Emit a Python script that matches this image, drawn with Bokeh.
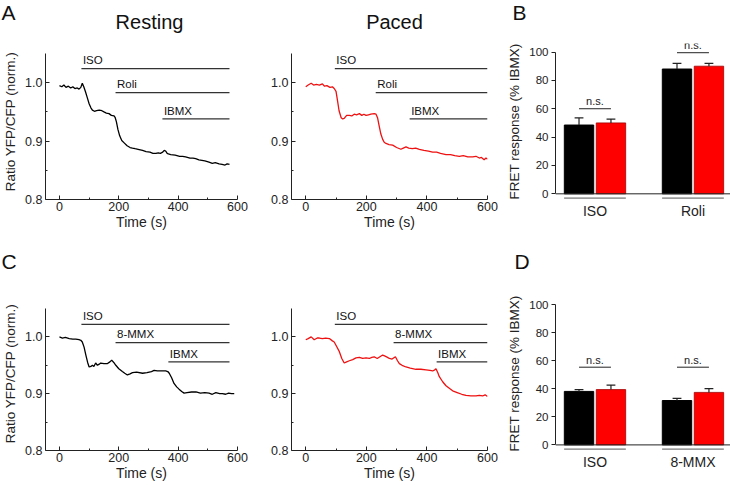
from bokeh.plotting import figure
from bokeh.layouts import row, column
from bokeh.models import FixedTicker, NumeralTickFormatter, Span
from bokeh.embed import file_html
from bokeh.resources import INLINE
from bokeh.core.properties import value

FONT = "Liberation Sans"

# ---------------- data ----------------
rest_A_t = [0, 8, 15, 22, 30, 38, 45, 52, 60, 66,
            72, 77, 82, 88, 94, 100, 106, 111, 118, 125,
            134, 143, 150, 158, 167, 175, 184, 188, 192, 197,
            203, 210, 218, 228, 238, 246, 255, 265, 280, 292,
            305, 315, 325, 333, 340, 348, 353, 358, 363, 367,
            375, 390, 405, 415, 425, 440, 450, 459, 470, 480,
            490, 504, 515, 525, 538, 548, 558, 565, 573]
rest_A_v = [0.995, 0.993, 0.996, 0.992, 0.994, 0.991, 0.993, 0.990, 0.991, 0.989,
            0.992, 0.999, 0.993, 0.984, 0.974, 0.964, 0.957, 0.953, 0.951, 0.952,
            0.953, 0.952, 0.950, 0.948, 0.947, 0.944, 0.943, 0.940, 0.933, 0.920,
            0.909, 0.901, 0.897, 0.892, 0.889, 0.888, 0.887, 0.886, 0.884, 0.882,
            0.881, 0.879, 0.879, 0.880, 0.879, 0.881, 0.884, 0.883, 0.879, 0.878,
            0.877, 0.876, 0.874, 0.874, 0.873, 0.871, 0.871, 0.870, 0.868, 0.867,
            0.866, 0.864, 0.862, 0.863, 0.861, 0.860, 0.859, 0.861, 0.860]

paced_A_t = [0, 8, 18, 26, 35, 45, 55, 62, 70, 80,
             88, 94, 100, 105, 110, 117, 122, 127, 135, 144,
             152, 160, 168, 177, 185, 192, 199, 207, 215, 226,
             232, 237, 242, 248, 254, 259, 265, 275, 287, 300,
             314, 322, 331, 340, 352, 363, 375, 390, 405, 419,
             432, 445, 463, 478, 492, 507, 520, 535, 551, 562,
             573, 580, 589, 595, 600]
paced_A_v = [0.993, 0.996, 0.999, 0.996, 0.997, 0.996, 0.998, 0.994, 0.995, 0.992,
             0.993, 0.990, 0.985, 0.969, 0.952, 0.940, 0.938, 0.939, 0.944, 0.944,
             0.943, 0.946, 0.945, 0.947, 0.944, 0.946, 0.944, 0.945, 0.946, 0.947,
             0.946, 0.940, 0.927, 0.912, 0.903, 0.898, 0.896, 0.894, 0.893, 0.889,
             0.886, 0.888, 0.890, 0.888, 0.887, 0.888, 0.886, 0.884, 0.883, 0.881,
             0.881, 0.879, 0.877, 0.877, 0.875, 0.874, 0.875, 0.873, 0.873, 0.874,
             0.871, 0.872, 0.868, 0.871, 0.869]

rest_C_t = [0, 10, 20, 33, 45, 55, 66, 72, 77, 83,
            89, 95, 100, 106, 111, 116, 122, 128, 134, 139,
            150, 162, 170, 176, 183, 190, 200, 212, 220, 229,
            238, 246, 260, 280, 295, 310, 319, 330, 345, 358,
            365, 370, 378, 386, 395, 403, 412, 420, 430, 445,
            460, 475, 490, 504, 515, 527, 540, 549, 560, 570,
            580, 589]
rest_C_v = [1.000, 0.998, 0.999, 0.997, 0.996, 0.996, 0.995, 0.994, 0.991, 0.982,
            0.968, 0.955, 0.947, 0.948, 0.950, 0.948, 0.954, 0.950, 0.952, 0.954,
            0.953, 0.953, 0.956, 0.959, 0.955, 0.950, 0.944, 0.939, 0.936, 0.933,
            0.935, 0.937, 0.938, 0.936, 0.937, 0.939, 0.941, 0.940, 0.940, 0.940,
            0.939, 0.936, 0.928, 0.918, 0.912, 0.908, 0.904, 0.901, 0.902, 0.903,
            0.903, 0.901, 0.902, 0.901, 0.899, 0.902, 0.900, 0.900, 0.899, 0.901,
            0.900, 0.900]

paced_C_t = [0, 8, 18, 28, 38, 45, 55, 66, 78, 88,
             94, 102, 111, 119, 127, 135, 144, 155, 166, 177,
             188, 199, 210, 218, 226, 236, 245, 254, 262, 270,
             276, 285, 296, 303, 309, 318, 331, 345, 364, 380,
             397, 410, 419, 426, 430, 436, 441, 452, 463, 475,
             485, 500, 515, 529, 545, 562, 573, 584, 592, 600]
paced_C_v = [0.995, 0.997, 1.000, 0.995, 0.998, 0.998, 0.997, 0.998, 0.997, 0.993,
             0.991, 0.983, 0.974, 0.962, 0.954, 0.956, 0.958, 0.960, 0.963, 0.964,
             0.962, 0.963, 0.962, 0.964, 0.965, 0.962, 0.965, 0.968, 0.966, 0.964,
             0.962, 0.961, 0.965, 0.958, 0.953, 0.950, 0.947, 0.945, 0.943, 0.943,
             0.942, 0.941, 0.940, 0.942, 0.944, 0.937, 0.930, 0.921, 0.914, 0.909,
             0.905, 0.902, 0.899, 0.897, 0.896, 0.896, 0.897, 0.896, 0.898, 0.895]

# drug application bars
drugs_A = ["ISO", "Roli", "IBMX"]
drugs_C = ["ISO", "8-MMX", "IBMX"]
rest_A_start = [74, 189, 347]
paced_A_start = [96, 231, 343]
rest_C_start = [74, 189, 367]
paced_C_start = [96, 290, 432]
rest_end = 573
paced_end = 600
levels_A = [1.024, 0.983, 0.938]
levels_C = [1.022, 0.990, 0.956]

# bar charts
cats_B = ["ISO", "Roli"]
B_rest_mean = [48.5, 88.0]
B_rest_err = [5.0, 4.0]
B_paced_mean = [50.0, 90.0]
B_paced_err = [2.7, 2.0]
B_ns = [60.0, 99.5]

cats_D = ["ISO", "8-MMX"]
D_rest_mean = [38.2, 31.7]
D_rest_err = [1.3, 1.6]
D_paced_mean = [39.5, 37.5]
D_paced_err = [3.2, 2.7]
D_ns = [55.5, 55.5]

AX = "#222222"
TOTAL_W = 728


def style_axis(ax, size="12.5px"):
    ax.axis_line_color = AX
    ax.major_tick_line_color = AX
    ax.minor_tick_line_color = AX
    ax.major_label_text_font = FONT
    ax.major_label_text_font_size = size
    ax.major_label_text_color = AX
    ax.axis_label_text_font = FONT
    ax.axis_label_text_font_style = "normal"
    ax.axis_label_text_color = AX


def trace_panel(t, v, color, names, starts, end, levels, ylabel, ytop,
                bl, br, bt, bb, fw, fh):
    p = figure(frame_width=fw, frame_height=fh, min_border_left=bl, min_border_right=br,
               min_border_top=bt, min_border_bottom=bb, x_range=(-47, 600),
               y_range=(0.8, ytop), output_backend="svg", toolbar_location=None, title=None)
    p.outline_line_color = None
    p.xgrid.visible = False
    p.ygrid.visible = False
    p.line(t, v, line_color=color, line_width=1.3)
    p.segment(x0=starts, y0=levels, x1=[end] * len(starts), y1=levels,
              line_color="#333333", line_width=1.2)
    p.text(x=[s + 5 for s in starts], y=[lv + 0.004 for lv in levels], text=names,
           text_font=value(FONT), text_font_size="11.5px", text_color="#111111",
           text_baseline="bottom", text_align="left")
    for ax in (p.xaxis[0], p.yaxis[0]):
        style_axis(ax)
        ax.major_tick_in = 4
        ax.major_tick_out = 0
        ax.minor_tick_in = 2
        ax.minor_tick_out = 0
        ax.major_label_standoff = 3
    p.xaxis.major_label_standoff = 2
    p.yaxis.bounds = (0.8, 1.05)
    p.xaxis.ticker = FixedTicker(ticks=[0, 200, 400, 600], minor_ticks=[100, 300, 500])
    p.yaxis.ticker = FixedTicker(ticks=[0.8, 0.9, 1.0], minor_ticks=[0.85, 0.95])
    p.yaxis.formatter = NumeralTickFormatter(format="0.0")
    p.xaxis.axis_label = "Time (s)"
    p.xaxis.axis_label_text_font_size = "14px"
    p.xaxis.axis_label_standoff = 0
    if ylabel:
        p.yaxis.axis_label = ylabel
        p.yaxis.axis_label_text_font_size = "13.5px"
        p.yaxis.axis_label_standoff = 4
    return p


def bar_panel(cats, rm, re, pm, pe, ns, bl, br, bt, bb, fw, fh):
    p = figure(frame_width=fw, frame_height=fh, min_border_left=bl, min_border_right=br,
               min_border_top=bt, min_border_bottom=bb, x_range=(-0.403, 1.383),
               y_range=(-4, 106), output_backend="svg", toolbar_location=None, title=None)
    p.outline_line_color = None
    p.xgrid.visible = False
    p.ygrid.visible = False
    xs = list(range(len(cats)))
    xb = [x - 0.163 for x in xs]
    xr = [x + 0.163 for x in xs]
    p.vbar(x=xb, top=rm, bottom=0, width=0.30, fill_color="black", line_color="black")
    p.vbar(x=xr, top=pm, bottom=0, width=0.30, fill_color="#ff0000",
           line_color="#a00000", line_width=0.8)
    for xx, m, e in ((xb, rm, re), (xr, pm, pe)):
        tops = [a + b for a, b in zip(m, e)]
        p.segment(x0=xx, y0=m, x1=xx, y1=tops, line_color="#222222", line_width=1.2)
        p.segment(x0=[x - 0.045 for x in xx], y0=tops, x1=[x + 0.045 for x in xx], y1=tops,
                  line_color="#222222", line_width=1.2)
    p.segment(x0=xb, y0=ns, x1=xr, y1=ns, line_color="#222222", line_width=1)
    p.text(x=xs, y=[n + 1.0 for n in ns], text=["n.s."] * len(ns), text_font=value(FONT),
           text_font_size="11px", text_color="#222222", text_align="center",
           text_baseline="bottom")
    p.segment(x0=[x - 0.315 for x in xs], y0=[-3] * len(xs), x1=[x + 0.315 for x in xs],
              y1=[-3] * len(xs), line_color="#555555", line_width=1)
    p.add_layout(Span(location=0, dimension="width", line_color=AX, line_width=1))
    style_axis(p.xaxis[0], "14px")
    p.xaxis.ticker = FixedTicker(ticks=xs, minor_ticks=[])
    p.xaxis.major_label_overrides = {i: c for i, c in zip(xs, cats)}
    p.xaxis.axis_line_color = None
    p.xaxis.major_tick_line_color = None
    p.xaxis.minor_tick_line_color = None
    p.xaxis.major_tick_in = 0
    p.xaxis.major_tick_out = 0
    p.xaxis.minor_tick_in = 0
    p.xaxis.minor_tick_out = 0
    p.xaxis.major_label_standoff = 3
    style_axis(p.yaxis[0], "11.5px")
    p.yaxis.bounds = (0, 100)
    p.yaxis.ticker = FixedTicker(ticks=[0, 20, 40, 60, 80, 100], minor_ticks=[])
    p.yaxis.major_tick_in = 0
    p.yaxis.major_tick_out = 4
    p.yaxis.minor_tick_in = 0
    p.yaxis.minor_tick_out = 0
    p.yaxis.minor_tick_line_color = None
    p.yaxis.major_label_standoff = 3
    p.yaxis.axis_label = "FRET response (% IBMX)"
    p.yaxis.axis_label_text_font_size = "13.5px"
    p.yaxis.axis_label_standoff = 4
    return p


def header(h, texts):
    # texts: (string, x, y, size, align) in header pixel coordinates (y up)
    p = figure(width=TOTAL_W, height=h, x_range=(0, TOTAL_W), y_range=(0, h),
               x_axis_type=None, y_axis_type=None, min_border=0, title=None,
               output_backend="svg", toolbar_location=None)
    p.outline_line_color = None
    p.xgrid.visible = False
    p.ygrid.visible = False
    for s, x, y, size, align in texts:
        p.text(x=[x], y=[y], text=[s], text_font=value(FONT), text_font_size=size,
               text_color="#111111", text_align=align, text_baseline="middle")
    return p


YLAB = "Ratio YFP/CFP (norm.)"

# header row 1 (page y 0..36)
h1 = header(36, [("A", 1, 24, "21px", "left"),
                 ("Resting", 149, 15, "20px", "center"),
                 ("Paced", 394, 15, "20px", "center"),
                 ("B", 512, 24, "21px", "left")])
# Row 1 (page y 36..240): all frames 43..199
f1 = trace_panel(rest_A_t, rest_A_v, "black", drugs_A, rest_A_start, rest_end, levels_A, YLAB,
                 1.0671, 43, 17, 7, 41, 192, 156)
f2 = trace_panel(paced_A_t, paced_A_v, "#ee1111", drugs_A, paced_A_start, paced_end, levels_A, None,
                 1.0671, 37, 15, 7, 41, 196, 156)
f3 = bar_panel(cats_B, B_rest_mean, B_rest_err, B_paced_mean, B_paced_err, B_ns,
               53, 0, 7, 41, 175, 156)

# header row 2 (page y 240..276)
h2 = header(36, [("C", 1, 15, "21px", "left"),
                 ("D", 514, 15, "21px", "left")])
# Row 2 (page y 276..486): all frames 296..450
f4 = trace_panel(rest_C_t, rest_C_v, "black", drugs_C, rest_C_start, rest_end, levels_C, YLAB,
                 1.0711, 43, 17, 20, 36, 192, 154)
f5 = trace_panel(paced_C_t, paced_C_v, "#ee1111", drugs_C, paced_C_start, paced_end, levels_C, None,
                 1.0711, 37, 15, 20, 36, 196, 154)
f6 = bar_panel(cats_D, D_rest_mean, D_rest_err, D_paced_mean, D_paced_err, D_ns,
               53, 0, 20, 36, 175, 154)

layout = column(h1, row(f1, f2, f3), h2, row(f4, f5, f6))

open("out.html", "w").write(file_html(layout, INLINE))
